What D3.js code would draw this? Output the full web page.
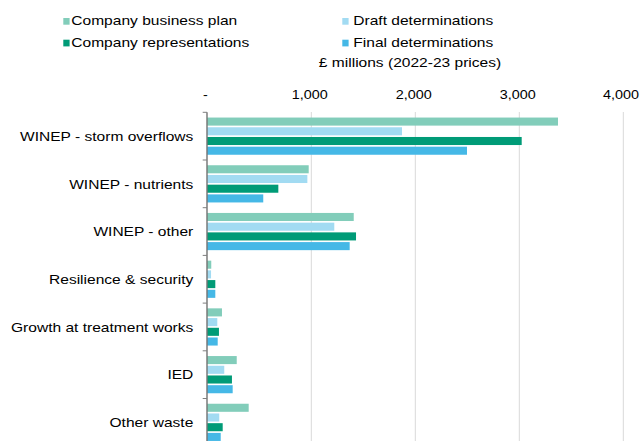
<!DOCTYPE html>
<html>
<head>
<meta charset="utf-8">
<script src="https://cdn.jsdelivr.net/npm/d3@7"></script>
<style>
  body { margin: 0; background: #fff; }
  svg { font-family: "Liberation Sans", Arial, sans-serif; }
</style>
</head>
<body>
<div id="chart"></div>
<script>
// data (£ millions, 2022-23 prices)
var categories = ["WINEP - storm overflows", "WINEP - nutrients", "WINEP - other",
  "Resilience & security", "Growth at treatment works", "IED", "Other waste"];
var seriesNames = ["Company business plan", "Draft determinations",
  "Company representations", "Final determinations"];
var businessPlan    = [3372, 975, 1408, 38, 141, 283, 398];
var draftDet        = [1872, 962, 1221, 36, 96, 163, 115];
var representations = [3023, 683, 1430, 77, 112, 237, 148];
var finalDet        = [2497, 538, 1369, 77, 100, 244, 129];
var tickValues = [0, 1000, 2000, 3000, 4000];
var colors = ["#82cdba", "#a2dbf2", "#009b77", "#45b8e6"];

var allSeries = [businessPlan, draftDet, representations, finalDet];

var width = 641, height = 441;
// the source text is drawn a bit wide, so stretch it horizontally
var textScale = 1.215, tickScale = 1.125, fontSize = 12.8;

var svg = d3.select("#chart").append("svg")
  .attr("width", width).attr("height", height);

function wideText(sel, px, py, s) {
  return sel.attr("transform", "translate(" + px + "," + py + ") scale(" + s + ",1)");
}

var x = d3.scaleLinear().domain([0, 4000]).range([207.3, 623.3]);
var y0 = d3.scaleBand().domain(categories)
  .range([112.3, 112.3 + 7 * 47.7])
  .paddingInner(0.22).paddingOuter(0.11);
var y1 = d3.scaleBand().domain(d3.range(4))
  .range([0, y0.bandwidth()]).paddingInner(0.17).paddingOuter(0);

// gridlines
svg.append("g").selectAll("line")
  .data(tickValues.filter(function(d) { return d > 0; }))
  .join("line")
  .attr("x1", function(d) { return x(d); })
  .attr("x2", function(d) { return x(d); })
  .attr("y1", 112).attr("y2", height)
  .attr("stroke", "#d9d9d9").attr("stroke-width", 1);

// tick labels on top
svg.append("g").selectAll("text")
  .data(tickValues)
  .join("text")
  .each(function(d) {
    var px = d === 4000 ? 639 : x(d) - (d === 0 ? 2 : 1.5);
    wideText(d3.select(this), px, 99, tickScale);
  })
  .attr("text-anchor", function(d) { return d === 4000 ? "end" : "middle"; })
  .attr("font-size", fontSize).attr("fill", "#000")
  .text(function(d) { return d === 0 ? "-" : d3.format(",")(d); });

// bars
var groups = svg.append("g").selectAll("g")
  .data(categories)
  .join("g")
  .attr("transform", function(d) { return "translate(0," + y0(d) + ")"; });

groups.selectAll("rect")
  .data(function(d, i) {
    return allSeries.map(function(s, k) { return { k: k, v: s[i] }; });
  })
  .join("rect")
  .attr("x", x(0))
  .attr("y", function(d) { return y1(d.k); })
  .attr("width", function(d) { return x(d.v) - x(0); })
  .attr("height", y1.bandwidth())
  .attr("fill", function(d) { return colors[d.k]; });

// category axis
var yAxisG = svg.append("g");
yAxisG.append("line")
  .attr("x1", 207).attr("x2", 207)
  .attr("y1", 112.3).attr("y2", height)
  .attr("stroke", "#595959").attr("stroke-width", 1.2);
yAxisG.selectAll("line.tick")
  .data(d3.range(8))
  .join("line").attr("class", "tick")
  .attr("x1", 202.7).attr("x2", 207)
  .attr("y1", function(i) { return 112.3 + i * y0.step(); })
  .attr("y2", function(i) { return 112.3 + i * y0.step(); })
  .attr("stroke", "#7f7f7f").attr("stroke-width", 1);
yAxisG.selectAll("text")
  .data(categories)
  .join("text")
  .each(function(d) {
    wideText(d3.select(this), 193.3, y0(d) + y0.bandwidth() / 2 + 4.8, textScale);
  })
  .attr("text-anchor", "end")
  .attr("font-size", fontSize).attr("fill", "#000")
  .text(function(d) { return d; });

// legend
var legendPos = [[63.3, 18], [342.3, 18], [63.3, 39.7], [342.3, 39.7]];
var legendTextX = [8, 11, 8, 11];
var legend = svg.append("g").selectAll("g")
  .data(seriesNames)
  .join("g")
  .attr("transform", function(d, i) { return "translate(" + legendPos[i][0] + "," + legendPos[i][1] + ")"; });
legend.append("rect")
  .attr("x", 0).attr("y", 0).attr("width", 6.3).attr("height", 6.7)
  .attr("fill", function(d, i) { return colors[i]; });
legend.append("text")
  .each(function(d, i) { wideText(d3.select(this), legendTextX[i], 7.3, textScale); })
  .attr("font-size", fontSize).attr("fill", "#000")
  .text(function(d) { return d; });

wideText(svg.append("text"), 410, 66.7, textScale)
  .attr("text-anchor", "middle")
  .attr("font-size", fontSize).attr("fill", "#000")
  .text("£ millions (2022-23 prices)");
</script>
</body>
</html>
